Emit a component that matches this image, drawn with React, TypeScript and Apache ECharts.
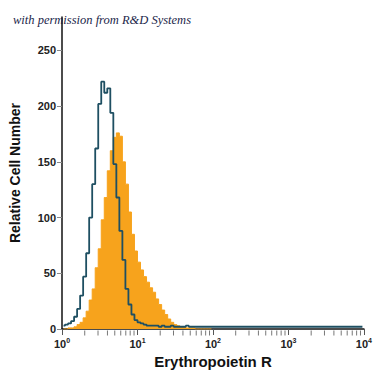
import React, { useEffect, useRef } from "react";
import * as echarts from "echarts";

// histogram bins in log10 units, 0..4, width 0.04
const binStart = 0;
const binWidth = 0.04;

const isotypeCounts = [
  3, 4, 5, 7, 11, 18, 30, 47, 68,
  100, 130, 162, 202, 222, 212, 216, 194, 148, 118,
  88, 62, 36, 22, 13, 8, 6, 5, 4, 3,
  3, 3, 3, 2, 3, 2, 2, 3, 2, 2,
  2, 2, 3, 2, 2, 2, 2, 2, 2, 2,
  2, 2, 2, 2, 2, 2, 2, 2, 2, 2,
  2, 2, 2, 2, 2, 2, 2, 2, 2, 2,
  2, 2, 2, 2, 2, 2, 2, 2, 2, 2,
  2, 2, 2, 2, 2, 2, 2, 2, 2, 2,
  2, 2, 2, 2, 2, 2, 2, 2, 2, 2, 2,
];

const antibodyCounts = [
  0, 0, 1, 1, 2, 4, 6, 10, 16, 26,
  36, 55, 72, 98, 118, 142, 160, 172, 176, 173,
  150, 130, 105, 85, 70, 60, 53, 47, 42, 37,
  33, 27, 22, 17, 13, 9, 6, 4, 3, 2,
  2, 1, 1, 1, 0, 0, 0, 0, 0, 0,
];

const minorTickValues = [
  2, 3, 4, 5, 6, 7, 8, 9,
  20, 30, 40, 50, 60, 70, 80, 90,
  200, 300, 400, 500, 600, 700, 800, 900,
  2000, 3000, 4000, 5000, 6000, 7000, 8000, 9000,
];
const yTicks = [0, 50, 100, 150, 200, 250];

const toPairs = (arr: number[]) =>
  arr.map((v, i) => [binStart + binWidth * i + binWidth / 2, v]);

const FONT = "'Liberation Sans Narrow', 'Liberation Sans', Arial, sans-serif";

export default function App() {
  const ref = useRef<HTMLDivElement>(null);
  useEffect(() => {
    if (!ref.current) return;
    const chart = echarts.init(ref.current, undefined, { renderer: "svg" });
    chart.setOption({
      animation: false,
      backgroundColor: "#ffffff",
      title: {
        text: "with permission from R&D Systems",
        left: 8,
        top: 8,
        textStyle: {
          fontFamily: "'Liberation Serif', 'DejaVu Serif', serif",
          fontStyle: "italic",
          fontWeight: "normal",
          fontSize: 12.5,
          color: "#1c1f4a",
        },
      },
      grid: { left: 56, right: 7, top: 17, bottom: 46 },
      xAxis: {
        type: "value",
        min: 0,
        max: 4,
        interval: 1,
        name: "Erythropoietin R",
        nameLocation: "middle",
        nameGap: 24,
        nameTextStyle: {
          fontFamily: FONT,
          fontWeight: "bold",
          fontSize: 15,
          color: "#111",
        },
        axisLine: { lineStyle: { color: "#111", width: 1.5 } },
        axisTick: { length: 6, lineStyle: { color: "#555" } },
        splitLine: { show: false },
        axisLabel: {
          margin: 8,
          formatter: (v: number) => `{b|10}{s|${Math.round(v)}}`,
          rich: {
            b: { fontFamily: FONT, fontWeight: "bold", fontSize: 11, color: "#222" },
            s: {
              fontFamily: FONT,
              fontWeight: "bold",
              fontSize: 7,
              color: "#222",
              padding: [0, 0, 6, 0],
            },
          },
        },
      },
      yAxis: {
        type: "value",
        min: 0,
        max: 280,
        interval: 50,
        name: "Relative Cell Number",
        nameLocation: "middle",
        nameGap: 40,
        nameTextStyle: {
          fontFamily: FONT,
          fontWeight: "bold",
          fontSize: 14,
          color: "#111",
        },
        axisLine: { show: true, lineStyle: { color: "#111", width: 1.5 } },
        axisTick: {
          show: true,
          length: 5,
          lineStyle: { color: "#888" },
          customValues: yTicks,
        },
        axisLabel: {
          margin: 6,
          fontFamily: FONT,
          fontWeight: "bold",
          fontSize: 11,
          color: "#222",
          customValues: yTicks,
        },
        splitLine: { show: false },
      },
      series: [
        {
          type: "line",
          step: "middle",
          data: toPairs(antibodyCounts),
          symbol: "none",
          lineStyle: { color: "#f7a31c", width: 1 },
          areaStyle: { color: "#f7a31c", opacity: 1 },
          z: 2,
        },
        {
          type: "line",
          step: "middle",
          data: toPairs(isotypeCounts),
          symbol: "none",
          lineStyle: { color: "#1e4f62", width: 1.8 },
          z: 3,
        },
        {
          type: "scatter",
          silent: true,
          clip: false,
          symbol: "rect",
          symbolSize: [1, 5],
          symbolOffset: [0, 4],
          itemStyle: { color: "#555" },
          data: minorTickValues.map((v) => [Math.log10(v), 0]),
          z: 4,
        },
      ],
    });
    return () => chart.dispose();
  }, []);
  return <div ref={ref} style={{ width: 375, height: 375, position: "absolute", left: 0, top: 0 }} />;
}
